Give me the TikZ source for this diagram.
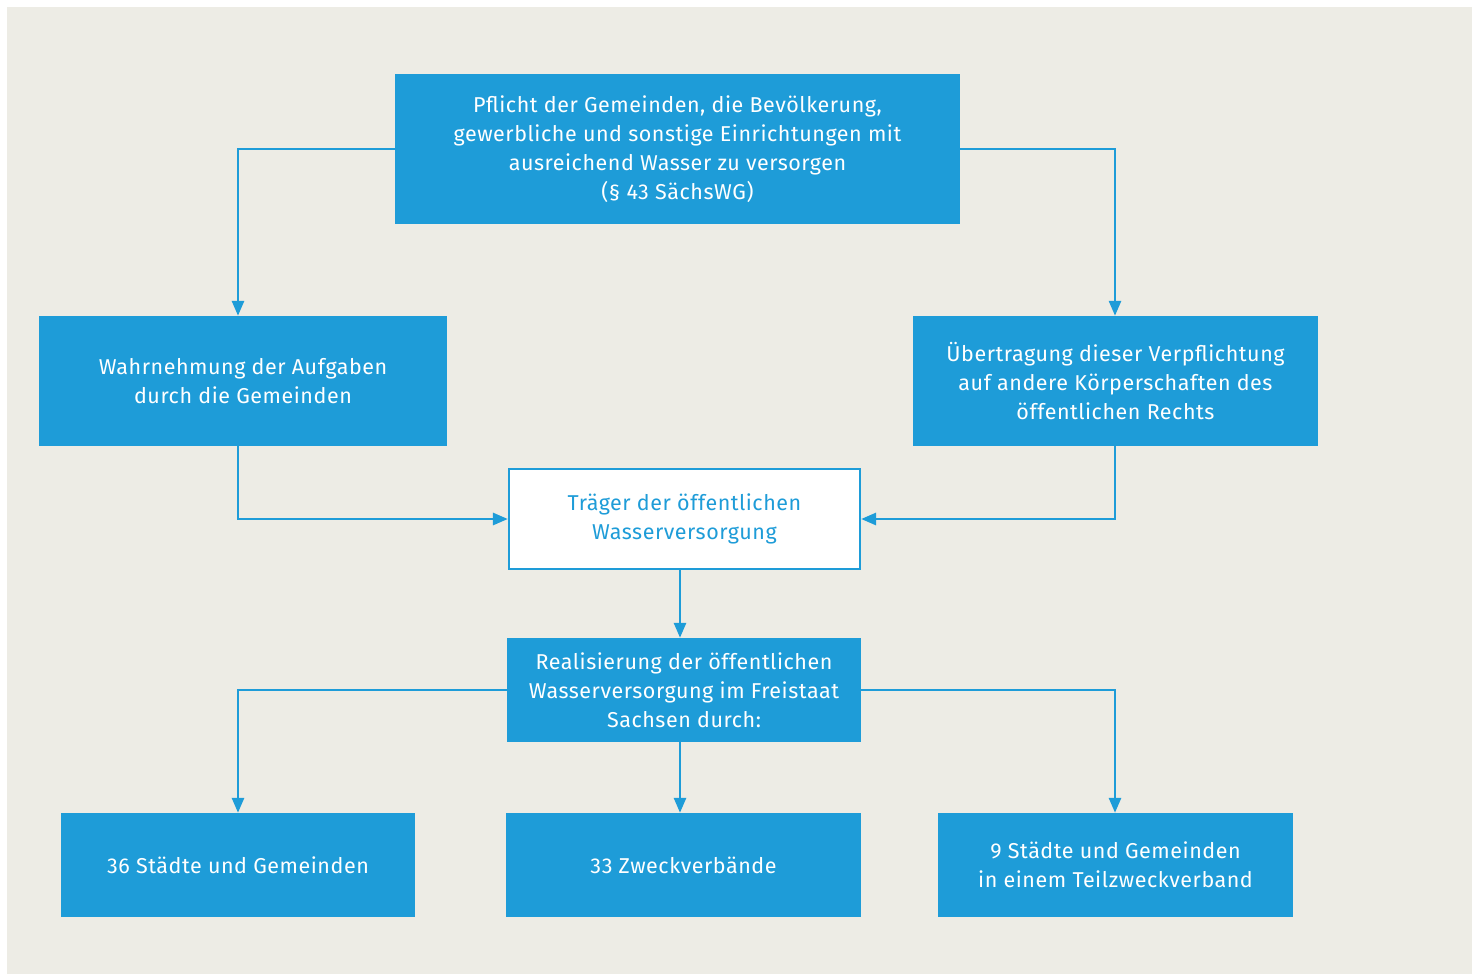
\documentclass[tikz,border=0pt]{standalone}
\usepackage{fontspec}
\setmainfont{Fira Sans}[LetterSpace=2.5]
\usetikzlibrary{arrows.meta}
\definecolor{bg}{HTML}{EDECE5}
\definecolor{fb}{HTML}{1E9CD8}
\tikzset{
  every node/.style={font=\fontsize{21.5}{29}\selectfont, align=center, inner sep=0pt},
  bluebox/.style={fill=fb, text=white, draw=none},
  whitebox/.style={fill=white, text=fb, draw=fb, line width=2.2pt},
  conn/.style={draw=fb, line width=2.8pt, -{Triangle[length=15pt,width=12pt]}},
}
\newcommand{\dn}[1]{\raisebox{-2pt}{\begin{tabular}{@{}c@{}}#1\end{tabular}}}
\begin{document}
\begin{tikzpicture}[x=1pt,y=-1pt]
\useasboundingbox (0,0) rectangle (1472,974);
\fill[bg] (7,7) rectangle (1472,974);
\node[bluebox, minimum width=565pt, minimum height=150pt] (top) at (677.5,149) {Pflicht der Gemeinden, die Bevölkerung,\\gewerbliche und sonstige Einrichtungen mit\\ausreichend Wasser zu versorgen\\(§ 43 SächsWG)};
\node[bluebox, minimum width=408pt, minimum height=130pt] (left) at (243,381) {Wahrnehmung der Aufgaben\\durch die Gemeinden};
\node[bluebox, minimum width=405pt, minimum height=130pt] (right) at (1115.5,381) {Übertragung dieser Verpflichtung\\auf andere Körperschaften des\\öffentlichen Rechts};
\node[whitebox, minimum width=351pt, minimum height=100pt] (white) at (684.5,519) {Träger der öffentlichen\\Wasserversorgung};
\node[bluebox, minimum width=354pt, minimum height=104pt] (real) at (684,690) {Realisierung der öffentlichen\\Wasserversorgung im Freistaat\\Sachsen durch:};
\node[bluebox, minimum width=354pt, minimum height=104pt] (b1) at (238,865) {36 Städte und Gemeinden};
\node[bluebox, minimum width=355pt, minimum height=104pt] (b2) at (683.5,865) {33 Zweckverbände};
\node[bluebox, minimum width=355pt, minimum height=104pt] (b3) at (1115.5,865) {9 Städte und Gemeinden\\in einem Teilzweckverband};
\coordinate (xl) at (238,0);
\coordinate (xr) at (1115,0);
\coordinate (xm) at (680,0);
\draw[conn] (top.west) -- (top.west -| xl) -- (left.north -| xl);
\draw[conn] (top.east) -- (top.east -| xr) -- (right.north -| xr);
\draw[conn] (left.south -| xl) -- (xl |- white.west) -- (white.west);
\draw[conn] (right.south -| xr) -- (xr |- white.east) -- (white.east);
\draw[conn] (white.south -| xm) -- (real.north -| xm);
\draw[conn] (real.west) -- (real.west -| xl) -- (b1.north -| xl);
\draw[conn] (real.south -| xm) -- (b2.north -| xm);
\draw[conn] (real.east) -- (real.east -| xr) -- (b3.north -| xr);
\end{tikzpicture}
\end{document}
